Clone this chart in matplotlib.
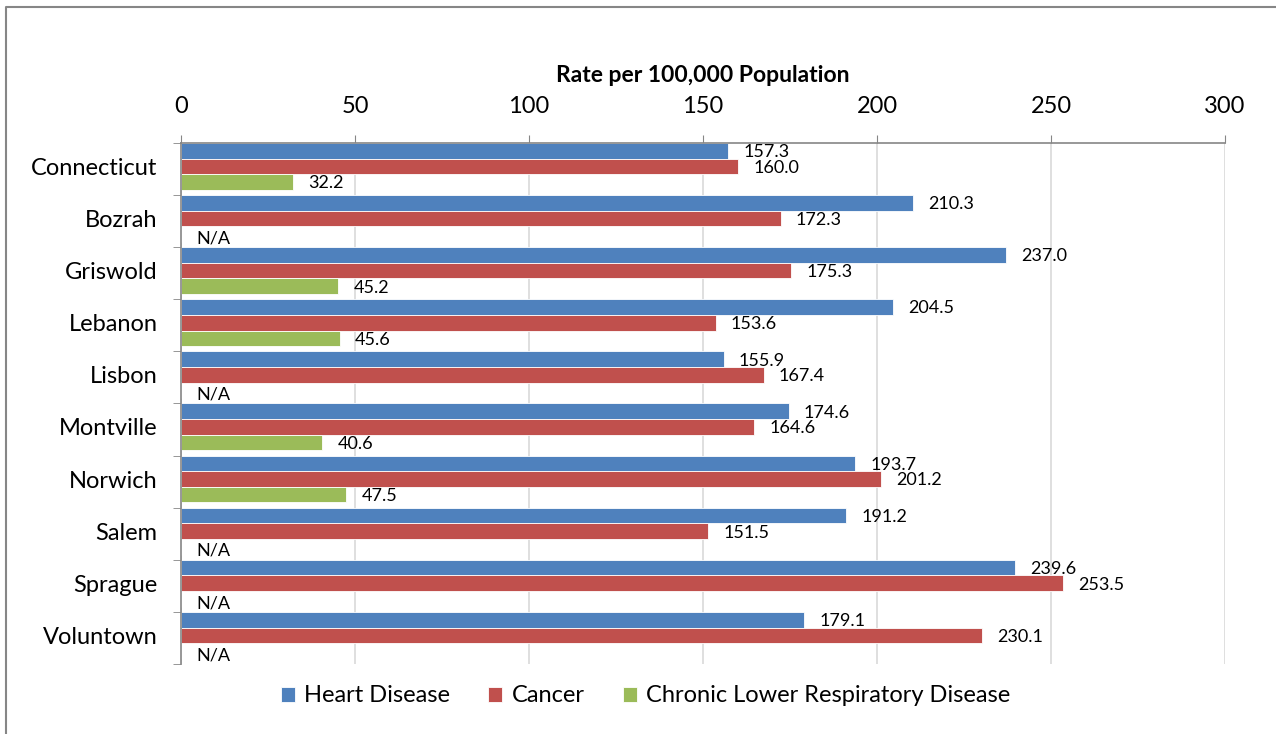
import matplotlib.pyplot as plt
import numpy as np
from matplotlib.lines import Line2D

towns = ["Connecticut", "Bozrah", "Griswold", "Lebanon", "Lisbon",
         "Montville", "Norwich", "Salem", "Sprague", "Voluntown"]
heart = [157.3, 210.3, 237.0, 204.5, 155.9, 174.6, 193.7, 191.2, 239.6, 179.1]
cancer = [160.0, 172.3, 175.3, 153.6, 167.4, 164.6, 201.2, 151.5, 253.5, 230.1]
clrd = [32.2, None, 45.2, 45.6, None, 40.6, 47.5, None, None, None]

series = [("Heart Disease", heart, "#4F81BD"),
          ("Cancer", cancer, "#C0504D"),
          ("Chronic Lower Respiratory Disease", clrd, "#9BBB59")]
x_ticks = [0, 50, 100, 150, 200, 250, 300]

plt.rcParams['font.family'] = ['Lato', 'DejaVu Sans']

fig = plt.figure(figsize=(12.76, 7.34), dpi=100)
ax = fig.add_axes([0.1419, 0.0954, 0.8182, 0.7098])

n = len(towns)
y = np.arange(n)
h = 0.3
for i, (name, vals, col) in enumerate(series):
    pos = y + (i - 1) * h
    v = np.array([np.nan if a is None else a for a in vals], dtype=float)
    ax.barh(pos, np.nan_to_num(v), height=h, color=col, label=name,
            edgecolor='white', linewidth=0.6)
    for p, a in zip(pos, vals):
        if a is None:
            ax.annotate("N/A", (0, p), xytext=(11, -3), textcoords='offset points',
                        va='center', ha='left', fontsize=13)
        else:
            ax.annotate(f"{a:.1f}", (a, p), xytext=(11, -1), textcoords='offset points',
                        va='center', ha='left', fontsize=13)

ax.set_xlim(0, 300)
ax.set_ylim(n - 0.5 + 0.05, -0.5 + 0.05)
ax.set_xticks(x_ticks)
ax.xaxis.tick_top()
ax.xaxis.set_label_position('top')
ax.set_xlabel("Rate per 100,000 Population", fontsize=16.5, fontweight='bold', labelpad=10)
ax.tick_params(axis='x', labelsize=17, length=6, color='#868686', pad=13)

ax.set_yticks(y)
ax.set_yticklabels(towns, va='center_baseline')
ax.set_yticks(np.arange(n + 1) - 0.5 + 0.05, minor=True)
ax.tick_params(axis='y', which='major', length=0, labelsize=17, pad=17)
ax.tick_params(axis='y', which='minor', length=6, color='#868686')

ax.grid(axis='x', color='#d9d9d9', linewidth=1.2)
ax.set_axisbelow(True)
for s in ['right', 'bottom']:
    ax.spines[s].set_visible(False)
for s in ['top', 'left']:
    ax.spines[s].set_color('#868686')
    ax.spines[s].set_linewidth(1.2)

ax.legend(loc='center', bbox_to_anchor=(0.506, 0.052), bbox_transform=fig.transFigure,
          ncol=3, frameon=False, fontsize=17, handlelength=0.6, handleheight=0.6,
          handletextpad=0.4, columnspacing=1.6)

fig.add_artist(Line2D([0.0047, 0.0047, 1.0], [0.0, 0.9905, 0.9905],
                      transform=fig.transFigure, color='#868686', linewidth=1.5))

fig.savefig("out.png", dpi=100)
